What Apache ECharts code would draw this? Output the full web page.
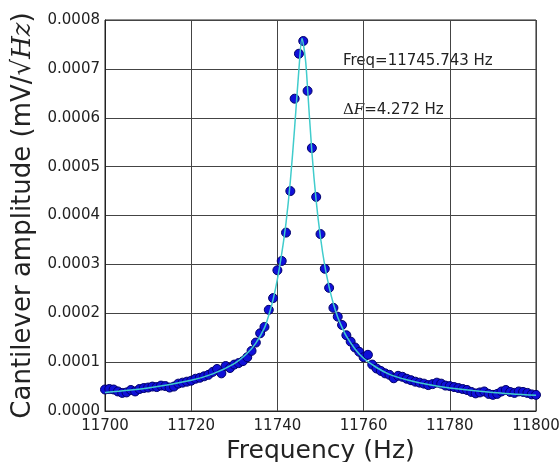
<!DOCTYPE html>
<html>
<head>
<meta charset="utf-8">
<script src="https://cdn.jsdelivr.net/npm/echarts@6/dist/echarts.min.js"></script>
<style>html,body{margin:0;padding:0;background:#fff}#c{width:560px;height:462px}</style>
</head>
<body>
<div id="c"></div>
<script>
// measured frequencies (Hz)
const freqs = [11700,11701,11702,11703,11704,11705,11706,11707,11708,11709,
  11710,11711,11712,11713,11714,11715,11716,11717,11718,11719,
  11720,11721,11722,11723,11724,11725,11726,11727,11728,11729,
  11730,11731,11732,11733,11734,11735,11736,11737,11738,11739,
  11740,11741,11742,11743,11744,11745,11746,11747,11748,11749,
  11750,11751,11752,11753,11754,11755,11756,11757,11758,11759,
  11760,11761,11762,11763,11764,11765,11766,11767,11768,11769,
  11770,11771,11772,11773,11774,11775,11776,11777,11778,11779,
  11780,11781,11782,11783,11784,11785,11786,11787,11788,11789,
  11790,11791,11792,11793,11794,11795,11796,11797,11798,11799,11800];
// measured amplitude (mV/sqrt(Hz))
const amps = [0.000044,0.000045,0.000044,0.000040,0.000037,0.000038,0.000043,0.000040,0.000045,0.000047,
  0.000048,0.000050,0.000049,0.000052,0.000051,0.000048,0.000050,0.000056,0.000058,0.000060,
  0.000062,0.000066,0.000068,0.000071,0.000074,0.000080,0.000086,0.000077,0.000092,0.000088,
  0.000095,0.000098,0.000102,0.000110,0.000123,0.000140,0.000159,0.000172,0.000207,0.000231,
  0.000288,0.000307,0.000365,0.000450,0.000639,0.000731,0.000757,0.000655,0.000538,0.000438,
  0.000362,0.000291,0.000252,0.000211,0.000193,0.000176,0.000155,0.000142,0.000130,0.000121,
  0.000110,0.000115,0.000095,0.000087,0.000082,0.000077,0.000074,0.000067,0.000072,0.000070,
  0.000066,0.000063,0.000060,0.000058,0.000056,0.000053,0.000055,0.000058,0.000056,0.000052,
  0.000051,0.000049,0.000047,0.000045,0.000043,0.000039,0.000036,0.000038,0.000040,0.000035,
  0.000033,0.000035,0.000040,0.000043,0.000039,0.000037,0.000040,0.000039,0.000037,0.000034,0.000033];
// fitted curve
const fitFreqs = [11700,11710,11720,11725,11730,11733,11735,11737,11738,11739,11740,11741,11742,11743,11744,11745,11745.7,11746.5,11747,11748,11749,11750,11751,11752,11753,11754,11755,11756,11758,11760,11763,11766,11770,11775,11780,11790,11800];
const fitAmps = [0.000038,0.000047,0.000063,0.000076,0.000097,0.000118,0.000139,0.000170,0.000196,0.000228,0.000270,0.000322,0.000385,0.000470,0.000580,0.000700,0.000762,0.000720,0.000660,0.000530,0.000430,0.000355,0.000297,0.000254,0.000219,0.000192,0.000171,0.000153,0.000127,0.000108,0.000089,0.000075,0.000064,0.000054,0.000047,0.000038,0.000032];
const xTicks = [11700,11720,11740,11760,11780,11800];
const annotFreq = 'Freq=11745.743 Hz';
const annotWidth = '=4.272 Hz';

const chart = echarts.init(document.getElementById('c'), null, {renderer:'canvas'});
const txt = '#222';
const font = 'DejaVu Sans';
chart.setOption({
  backgroundColor:'#fff',
  animation:false,
  grid:{left:105, right:24, top:20, bottom:51, show:true, borderColor:'#222', borderWidth:1,
    containLabel:false, outerBoundsMode:'none'},
  xAxis:{type:'value', min:xTicks[0], max:xTicks[xTicks.length-1], interval:20,
    name:'Frequency (Hz)', nameLocation:'middle', nameGap:24,
    nameTextStyle:{fontSize:25, color:txt, fontFamily:font},
    axisLine:{show:true, lineStyle:{color:'#222'}},
    axisTick:{show:false},
    axisLabel:{fontSize:15, color:txt, fontFamily:font, margin:8, formatter:v=>String(v)},
    splitLine:{show:true, lineStyle:{color:'#444', width:1}}},
  yAxis:{type:'value', min:0, max:0.0008, interval:0.0001,
    name:'Cantilever amplitude (mV/√{i|Hz})', nameLocation:'middle', nameGap:67,
    nameTextStyle:{fontSize:26, color:txt, fontFamily:font,
      rich:{i:{fontSize:26, fontStyle:'italic', fontFamily:'DejaVu Serif', color:txt}}},
    axisLine:{show:true, lineStyle:{color:'#222'}},
    axisTick:{show:false},
    axisLabel:{fontSize:15, color:txt, fontFamily:font, margin:5, formatter:v=>v.toFixed(4)},
    splitLine:{show:true, lineStyle:{color:'#444', width:1}}},
  series:[
    {type:'scatter', data:freqs.map((f,i)=>[f,amps[i]]), symbolSize:9, z:2,
      itemStyle:{color:'#1010d8', borderColor:'#00006a', borderWidth:1, opacity:1}},
    {type:'line', data:fitFreqs.map((f,i)=>[f,fitAmps[i]]), smooth:0.3, showSymbol:false, z:3,
      lineStyle:{color:'#40cccc', width:1.5}}
  ],
  graphic:[
    {type:'text', left:343, top:54, style:{text:annotFreq, fontSize:15, fill:txt, fontFamily:font}},
    {type:'text', left:343, top:103, style:{text:'{a|Δ}{b|F}'+annotWidth, fontSize:15, fill:txt, fontFamily:font,
      rich:{a:{fontSize:15, fontFamily:'DejaVu Serif', fill:txt}, b:{fontSize:15, fontStyle:'italic', fontFamily:'DejaVu Serif', fill:txt}}}}
  ]
});
</script>
</body>
</html>
